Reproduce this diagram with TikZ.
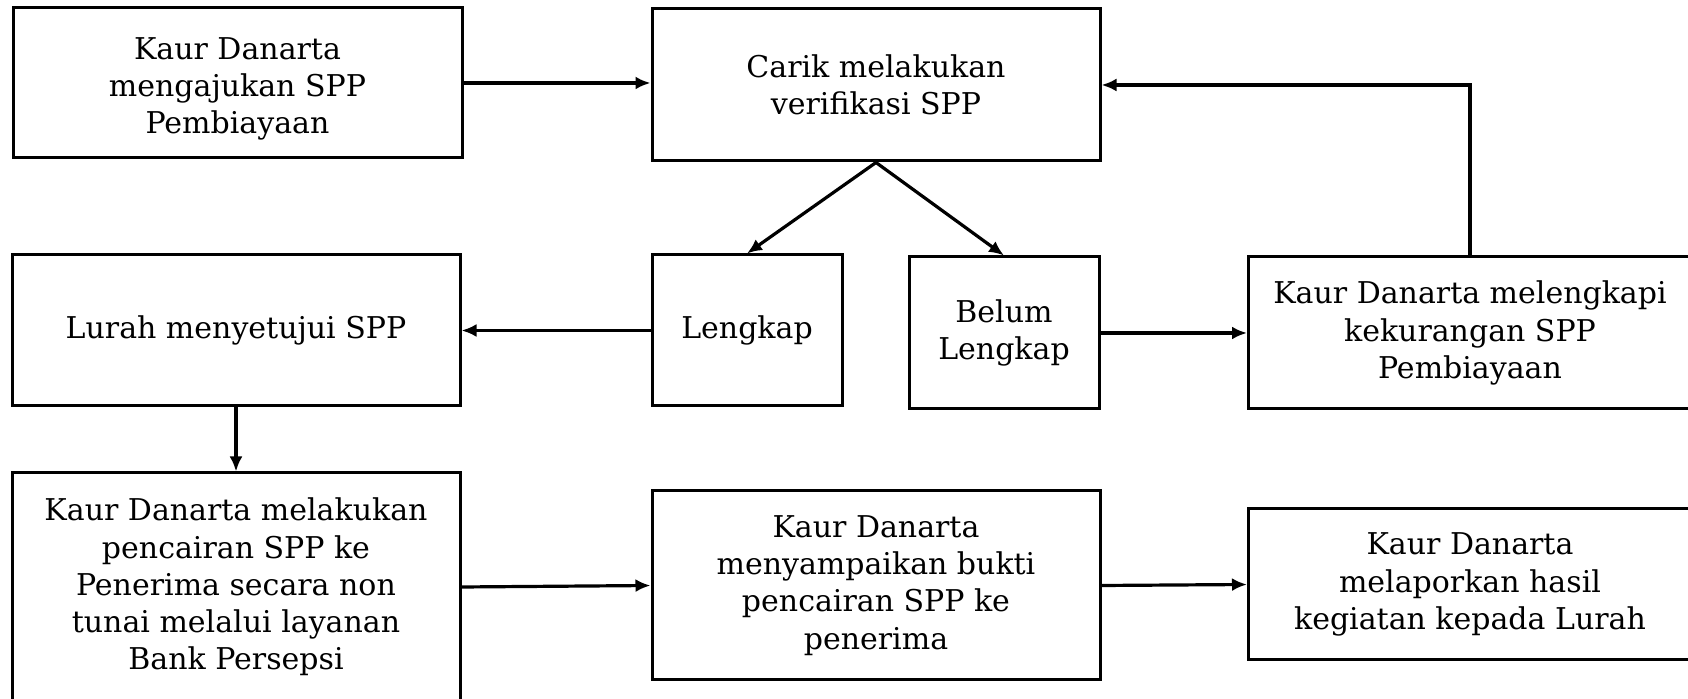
\documentclass[tikz,border=0pt]{standalone}
\usepackage{fontspec}
\setmainfont{DejaVu Serif}
\usetikzlibrary{arrows.meta}
\tikzset{
  box/.style={draw=black, line width=1.5pt, align=center, inner sep=0pt,
    font=\fontsize{15pt}{18.6pt}\selectfont},
  conn/.style={line width=1.6pt, -{Latex[length=7.5pt,width=6.5pt]}}
}
\begin{document}
\begin{tikzpicture}[x=0.5pt,y=-0.5pt]
\useasboundingbox (0,0) rectangle (1688,699);
\clip (0,0) rectangle (1688,699);
\fill[white] (0,0) rectangle (1688,699);
\node[box, minimum width=224.5pt, minimum height=75pt] (A) at (237.5,83) {\rule{0pt}{16.8pt}Kaur Danarta\\mengajukan SPP\\Pembiayaan};
\node[box, minimum width=224pt, minimum height=76pt] (B) at (876,85) {Carik melakukan\\verifikasi SPP};
\node[box, minimum width=224pt, minimum height=75.5pt] (C) at (236,330.5) {Lurah menyetujui SPP};
\node[box, minimum width=95pt, minimum height=75.5pt] (D) at (747,330.5) {Lengkap};
\node[box, minimum width=95pt, minimum height=76pt] (E) at (1004,333) {Belum\\Lengkap};
\node[box, minimum width=221.5pt, minimum height=76pt] (F) at (1470,333) {Kaur Danarta melengkapi\\kekurangan SPP\\Pembiayaan};
\node[box, minimum width=224pt, minimum height=114pt] (G) at (236,587) {Kaur Danarta melakukan\\pencairan SPP ke\\Penerima secara non\\tunai melalui layanan\\Bank Persepsi};
\node[box, minimum width=224pt, minimum height=94.5pt] (H) at (876,585.5) {Kaur Danarta\\menyampaikan bukti\\pencairan SPP ke\\penerima};
\node[box, minimum width=221.5pt, minimum height=75.5pt] (I) at (1470,584.5) {Kaur Danarta\\melaporkan hasil\\kegiatan kepada Lurah};
\draw[conn] (A.east) -- (B.west |- A.east);
\draw[conn] (F.north) |- (B.east);
\draw[conn] (B.south) -- (D.north);
\draw[conn] (B.south) -- (E.north);
\draw[conn] (D.west) -- (C.east);
\draw[conn] (E.east) -- (F.west);
\draw[conn] (C.south) -- (G.north);
\draw[conn] (G.east) -- (H.west);
\draw[conn] (H.east) -- (I.west);
\end{tikzpicture}
\end{document}
